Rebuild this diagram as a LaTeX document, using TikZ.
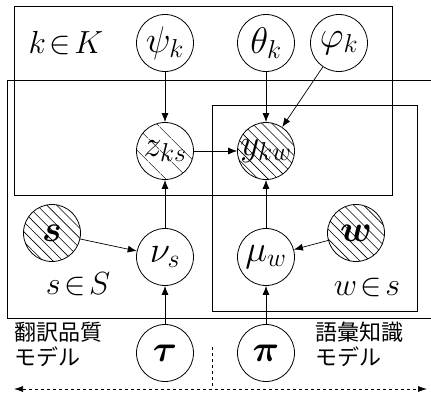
\RequirePackage{fix-cm}
\documentclass[tikz,border=0pt]{standalone}
\usepackage{fontspec}
\usepackage{amsmath,bm}
\newfontfamily\jpfont{Noto Sans CJK JP}
\usetikzlibrary{arrows.meta,patterns.meta}
\tikzset{
  var/.style={draw,circle,line width=0.8pt,minimum size=57pt,inner sep=0pt,font=\fontsize{37}{39}\selectfont},
  obs/.style={var,postaction={pattern={Lines[angle=-45,distance=7pt,line width=0.6pt]}}},
  sparse/.style={var,postaction={pattern={Lines[angle=-45,distance=17pt,line width=0.6pt]}}},
  plate/.style={draw,line width=0.9pt},
  dep/.style={-{Latex[length=9pt,width=7pt]},line width=0.7pt},
  lbl/.style={font=\fontsize{32}{34}\selectfont},
  jp/.style={font=\jpfont\fontsize{22}{25}\selectfont,align=left,inner sep=0pt}
}
\begin{document}
\begin{tikzpicture}[x=1pt,y=-1pt]
    \useasboundingbox (0,0) rectangle (431,396);
    % plates
    \draw[plate] (14,6) rectangle (392,195);
    \draw[plate] (7,80) -- (431,80);
    \draw[plate] (7,80) -- (7,318) -- (431,318);
    \draw[plate] (212,105) rectangle (417,311);
    % plate labels
    \node (klab) at ( 66, 43) [lbl] {$k\!\in\! K$};
    \node (slab) at ( 78, 284) [lbl] {$s\!\in\! S$};
    \node (wlab) at (367, 287) [lbl] {$w\!\in\! s$};
    % topic level
    \node (psi)   at (165, 43) [var] {$\psi_k$};
    \node (theta) at (266, 43) [var] {$\theta_k$};
    \node (phi)   at (339, 43) [var] {$\varphi_k$};
    % topic assignments
    \node (z) at (165, 151) [sparse] {$z_{ks}$};
    \node (y) at (266, 151) [obs] {$y_{kw}$};
    % sentence / word level
    \node (s)  at ( 52, 233) [obs] {$\bm{s}$};
    \node (nu) at (165, 257) [var] {$\nu_s$};
    \node (mu) at (266, 257) [var] {$\mu_w$};
    \node (w)  at (356, 233) [obs] {$\bm{w}$};
    % priors
    \node (tau) at (165, 353) [var] {$\bm{\tau}$};
    \node (pi)  at (266, 353) [var] {$\bm{\pi}$};
    % model names
    \node (qm) at ( 14, 344) [jp,anchor=west] {翻訳品質\\モデル};
    \node (km) at (315, 344) [jp,anchor=west] {語彙知識\\モデル};
    % dependencies
    \draw[dep] (psi) -- (z);
    \draw[dep] (theta) -- (y);
    \draw[dep] (phi) -- (y);
    \draw[dep] (z) -- (y);
    \draw[dep] (s) -- (nu);
    \draw[dep] (nu) -- (z);
    \draw[dep] (tau) -- (nu);
    \draw[dep] (w) -- (mu);
    \draw[dep] (mu) -- (y);
    \draw[dep] (pi) -- (mu);
    % model split
    \coordinate (left)  at ( 14, 389);
    \coordinate (right) at (427, 389);
    \coordinate (mid)   at (212, 389);
    \coordinate (midtop) at (212, 347);
    \draw[dashed,line width=0.7pt,{Latex[length=9pt,width=6pt]}-{Latex[length=9pt,width=6pt]}] (left) -- (right);
    \draw[dashed,line width=0.7pt] (midtop) -- (mid);
\end{tikzpicture}
\end{document}
